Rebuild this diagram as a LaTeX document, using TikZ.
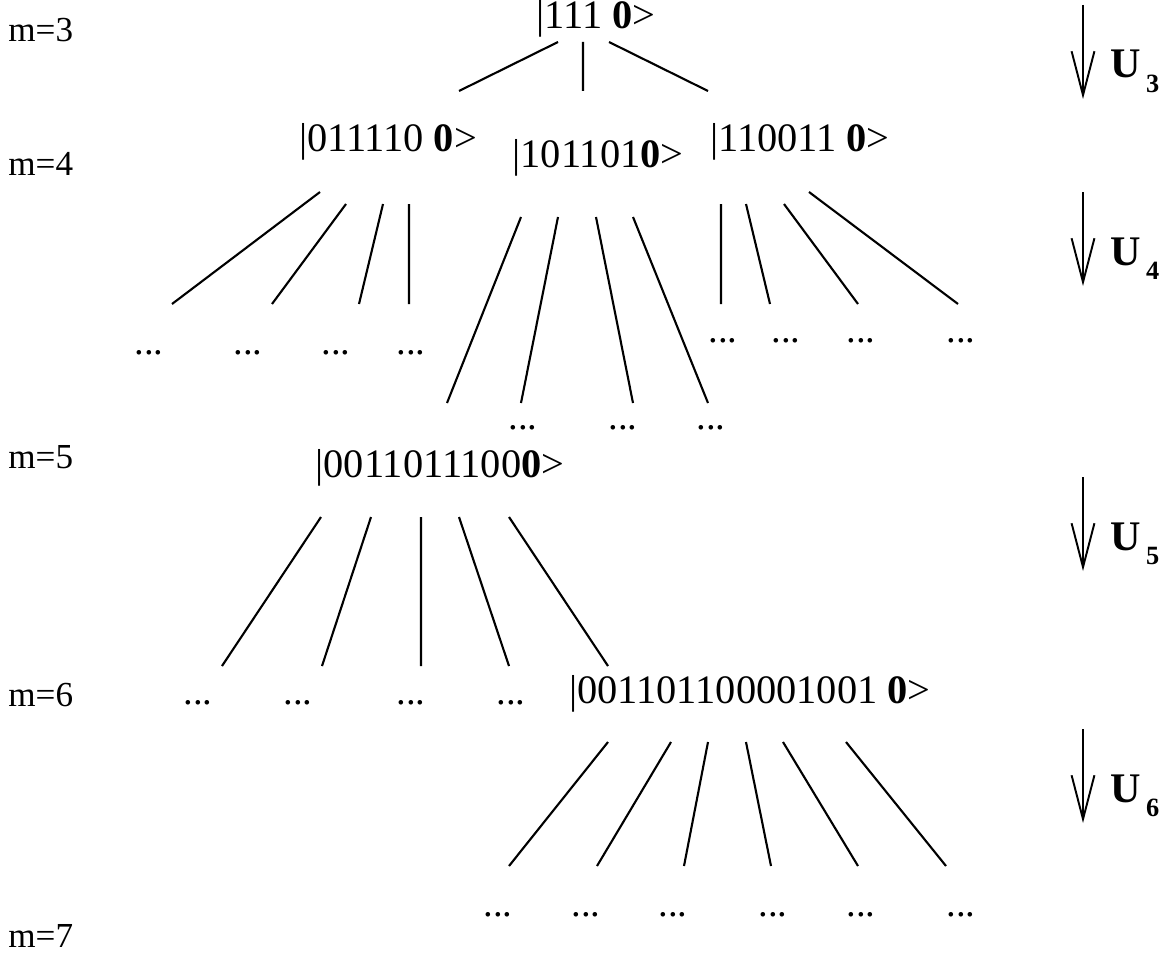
\documentclass[tikz,border=0pt]{standalone}
\usepackage{fontspec}
\setmainfont{Liberation Serif}
\usetikzlibrary{arrows.meta}
\tikzset{
  ket/.style={inner sep=0pt, anchor=base, font=\fontsize{23}{27}\selectfont},
  etc/.style={inner sep=0pt, anchor=base, font=\fontsize{22}{26}\selectfont},
  mlabel/.style={inner sep=0pt, anchor=base west, font=\fontsize{20}{24}\selectfont},
  ulabel/.style={inner sep=0pt, anchor=base west, font=\fontsize{24}{28}\selectfont\bfseries},
  branch/.style={line width=1.2pt},
  evol/.style={line width=1.1pt, -{Straight Barb[length=25pt,width=13pt]}}
}
\newcommand{\usub}[1]{U\hspace{3pt}\raisebox{-8pt}{\fontsize{15}{17}\selectfont #1}}

\begin{document}
\begin{tikzpicture}[x=0.02cm, y=-0.02cm]
\useasboundingbox (0,0) rectangle (1169,963);
% levels
\node[mlabel] (m3) at (8,42) {m=3};
\node[mlabel] (m4) at (8,175) {m=4};
\node[mlabel] (m5) at (8,468) {m=5};
\node[mlabel] (m6) at (8,706) {m=6};
\node[mlabel] (m7) at (8,947) {m=7};
%% root
\node[ket] (k3) at (596,29) {|111 \textbf{0}>};
\coordinate (A1) at (558,42) ; \coordinate (B1) at (459,91) ;
\coordinate (A2) at (583,42) ; \coordinate (B2) at (583,91) ;
\coordinate (A3) at (609,42) ; \coordinate (B3) at (708,91) ;
\draw[branch] (A1) -- (B1) (A2) -- (B2) (A3) -- (B3) ;
%% m=4
\node[ket] (k4a) at (388,152) {|011110 \textbf{0}>};
\node[ket] (k4b) at (598,167) {|101101\textbf{0}>};
\node[ket] (k4c) at (800,152) {|110011 \textbf{0}>};
% children of k4a
\coordinate (C1) at (320,192) ; \coordinate (D1) at (172,304) ;
\coordinate (C2) at (346,204) ; \coordinate (D2) at (272,304) ;
\coordinate (C3) at (383,204) ; \coordinate (D3) at (359,304) ;
\coordinate (C4) at (409,204) ; \coordinate (D4) at (409,304) ;
\draw[branch] (C1) -- (D1) (C2) -- (D2) (C3) -- (D3) (C4) -- (D4) ;
\node[etc] (e4a1) at (149,354) {...};
\node[etc] (e4a2) at (248,354) {...};
\node[etc] (e4a3) at (336,354) {...};
\node[etc] (e4a4) at (411,354) {...};
% children of k4b
\coordinate (E1) at (521,217) ; \coordinate (F1) at (447,403) ;
\coordinate (E2) at (558,217) ; \coordinate (F2) at (521,403) ;
\coordinate (E3) at (596,217) ; \coordinate (F3) at (633,403) ;
\coordinate (E4) at (633,217) ; \coordinate (F4) at (708,403) ;
\draw[branch] (E1) -- (F1) (E2) -- (F2) (E3) -- (F3) (E4) -- (F4) ;
\node[etc] (e4b2) at (523,429) {...};
\node[etc] (e4b3) at (623,429) {...};
\node[etc] (e4b4) at (711,429) {...};
% children of k4c
\coordinate (G1) at (721,204) ; \coordinate (H1) at (721,304) ;
\coordinate (G2) at (746,204) ; \coordinate (H2) at (770,304) ;
\coordinate (G3) at (784,204) ; \coordinate (H3) at (858,304) ;
\coordinate (G4) at (809,192) ; \coordinate (H4) at (958,304) ;
\draw[branch] (G1) -- (H1) (G2) -- (H2) (G3) -- (H3) (G4) -- (H4) ;
\node[etc] (e4c1) at (723,342) {...};
\node[etc] (e4c2) at (786,342) {...};
\node[etc] (e4c3) at (861,342) {...};
\node[etc] (e4c4) at (961,342) {...};
%% m=5
\node[ket] (k5) at (440,477) {|0011011100\textbf{0}>};
\coordinate (I1) at (321,517) ; \coordinate (J1) at (222,666) ;
\coordinate (I2) at (371,517) ; \coordinate (J2) at (322,666) ;
\coordinate (I3) at (421,517) ; \coordinate (J3) at (421,666) ;
\coordinate (I4) at (459,517) ; \coordinate (J4) at (509,666) ;
\coordinate (I5) at (509,517) ; \coordinate (J5) at (608,666) ;
\draw[branch] (I1) -- (J1) (I2) -- (J2) (I3) -- (J3) (I4) -- (J4) (I5) -- (J5) ;
\node[etc] (e51) at (198,704) {...};
\node[etc] (e52) at (298,704) {...};
\node[etc] (e53) at (411,704) {...};
\node[etc] (e54) at (511,704) {...};
%% m=6
\node[ket] (k6) at (750,703) {|001101100001001 \textbf{0}>};
\coordinate (K1) at (608,742) ; \coordinate (L1) at (509,866) ;
\coordinate (K2) at (671,742) ; \coordinate (L2) at (597,866) ;
\coordinate (K3) at (708,742) ; \coordinate (L3) at (684,866) ;
\coordinate (K4) at (746,742) ; \coordinate (L4) at (771,866) ;
\coordinate (K5) at (783,742) ; \coordinate (L5) at (858,866) ;
\coordinate (K6) at (846,742) ; \coordinate (L6) at (946,866) ;
\draw[branch] (K1) -- (L1) (K2) -- (L2) (K3) -- (L3) (K4) -- (L4) (K5) -- (L5) (K6) -- (L6) ;
\node[etc] (e61) at (498,916) {...};
\node[etc] (e62) at (586,916) {...};
\node[etc] (e63) at (673,916) {...};
\node[etc] (e64) at (773,916) {...};
\node[etc] (e65) at (861,916) {...};
\node[etc] (e66) at (961,916) {...};
%% evolution arrows
\coordinate (u3a) at (1083,5) ;   \coordinate (u3b) at (1083,99) ;
\coordinate (u4a) at (1083,192) ; \coordinate (u4b) at (1083,286) ;
\coordinate (u5a) at (1083,477) ; \coordinate (u5b) at (1083,571) ;
\coordinate (u6a) at (1083,729) ; \coordinate (u6b) at (1083,823) ;
\draw[evol] (u3a) -- (u3b) ;
\draw[evol] (u4a) -- (u4b) ;
\draw[evol] (u5a) -- (u5b) ;
\draw[evol] (u6a) -- (u6b) ;
\node[ulabel] (U3) at (1110,78) {\usub{3}};
\node[ulabel] (U4) at (1110,265) {\usub{4}};
\node[ulabel] (U5) at (1110,550) {\usub{5}};
\node[ulabel] (U6) at (1110,802) {\usub{6}};
\end{tikzpicture}
\end{document}
